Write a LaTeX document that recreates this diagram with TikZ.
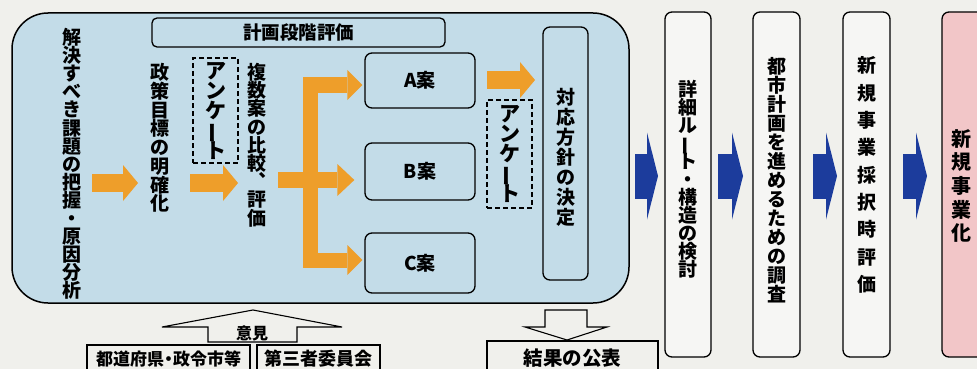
\documentclass[tikz,border=0pt]{standalone}
\usepackage{fontspec}
\usepackage{graphicx}
\setmainfont{Noto Sans CJK JP}
\usetikzlibrary{arrows.meta}
\definecolor{bg}{HTML}{F0F0EC}
\definecolor{lblue}{HTML}{C3DCE8}
\definecolor{orng}{HTML}{EE9E2A}
\definecolor{dblue}{HTML}{1C3C9C}
\definecolor{pinkbox}{HTML}{F2C6C8}
\definecolor{wbox}{HTML}{F6F6F4}
\makeatletter
\newcommand\vtxt[3]{\fontsize{#1pt}{#2pt}\selectfont\vbox{\baselineskip=#2pt\lineskiplimit=-100pt\lineskip=0pt\@tfor\vc:=#3\do{\hbox to #1pt{\hss\vc\hss}}}}
\makeatother
\newcommand\vbar{\rotatebox[origin=c]{90}{ー}}
\newcommand\ndot{\kern-4pt・\kern-4pt}
\tikzset{
 box/.style={draw, line width=1.3pt, rounded corners=7pt, inner sep=0pt},
 dbox/.style={draw, line width=1.1pt, dash pattern=on 5pt off 3pt, inner sep=0pt},
 txt/.style={inner sep=0pt, font=\bfseries},
 oarrow/.style={draw=orng, line width=18pt, -{Triangle[length=15pt,width=36pt,line width=0pt]}},
 oarm/.style={draw=orng, line width=15pt, -{Triangle[length=15pt,width=30pt,line width=0pt]}},
 barrow/.style={draw=dblue, line width=45pt, -{Triangle[length=11pt,width=87pt,line width=0pt]}},
 outline/.style={draw, line width=1.1pt, line join=miter},
}
\begin{document}
\begin{tikzpicture}[x=1pt,y=-1pt]
\useasboundingbox (0,0) rectangle (977,369);
\fill[bg] (0,0) rectangle (977,369);
% main planning box
\node[box, fill=lblue, line width=1.5pt, rounded corners=36pt, minimum width=617pt, minimum height=290pt] (main) at (320.5,158) {};
\node[box, fill=lblue, rounded corners=5pt, minimum width=293pt, minimum height=29pt, font=\bfseries\fontsize{18.5pt}{20pt}\selectfont] (plan) at (298.5,32.5) {計画段階評価};
% text columns
\node[txt] (t1) at (72,164) {\vtxt{19}{18.1}{解決すべき課題の把握・原因分析}};
\node[txt] (t2) at (160,138) {\vtxt{19}{18.7}{政策目標の明確化}};
\node[txt] (t3) at (257,145) {\vtxt{19}{18.2}{複数案の比較︑評価}};
\node[dbox, minimum width=45pt, minimum height=105pt] (enq1) at (215.5,110.5) {};
\node[txt] (enq1t) at (215.5,110.5) {\vtxt{21}{20}{アンケ{\vbar}ト}};
% alternatives
\node[box, fill=lblue, minimum width=110pt, minimum height=55pt, font=\bfseries\fontsize{19pt}{20pt}\selectfont] (A) at (420,80.5) {A案};
\node[box, fill=lblue, minimum width=110pt, minimum height=57pt, font=\bfseries\fontsize{19pt}{20pt}\selectfont] (B) at (420,171.5) {B案};
\node[box, fill=lblue, minimum width=110pt, minimum height=60pt, font=\bfseries\fontsize{19pt}{20pt}\selectfont] (C) at (420,263) {C案};
\node[dbox, minimum width=45pt, minimum height=108pt] (enq2) at (509.5,154) {};
\node[txt] (enq2t) at (509.5,154) {\vtxt{21}{20}{アンケ{\vbar}ト}};
\node[box, fill=lblue, minimum width=45pt, minimum height=253pt] (dec) at (565.5,153.5) {};
\node[txt] (dect) at (565.5,157) {\vtxt{19}{20}{対応方針の決定}};
% orange arrows
\coordinate (o1s) at (92,183); \coordinate (o1e) at (138,183);
\coordinate (o2s) at (190,183); \coordinate (o2e) at (238,183);
\coordinate (o3s) at (487,80); \coordinate (o3e) at (535,80);
\draw[oarrow] (o1s) -- (o1e);
\draw[oarrow] (o2s) -- (o2e);
\draw[oarrow] (o3s) -- (o3e);
\coordinate (brT) at (310.5,78); \coordinate (brB) at (310.5,268);
\draw[draw=orng, line width=15pt] (brT) -- (brB);
\coordinate (armA) at (303,85); \coordinate (armB) at (278,180); \coordinate (armC) at (303,260);
\draw[oarm] (armA) -- ([xshift=-2pt]A.west |- armA);
\draw[oarm, line width=16pt, -{Triangle[length=17pt,width=32pt,line width=0pt]}] (armB) -- ([xshift=-10pt]B.west |- armB);
\draw[oarm] (armC) -- ([xshift=-2pt]C.west |- armC);
% right-hand stages
\node[box, fill=wbox, minimum width=46pt, minimum height=345pt] (r1) at (688,184.5) {};
\node[txt] (r1t) at (688,179) {\vtxt{19}{18}{詳細ル{\vbar}ト・構造の検討}};
\node[box, fill=wbox, minimum width=47pt, minimum height=345pt] (r2) at (776.5,184.5) {};
\node[txt] (r2t) at (776.5,180) {\vtxt{19}{19}{都市計画を進めるための調査}};
\node[box, fill=wbox, minimum width=47pt, minimum height=345pt] (r3) at (866.5,184.5) {};
\node[txt] (r3t) at (866.5,175) {\vtxt{19}{27.3}{新規事業採択時評価}};
\node[box, fill=pinkbox, minimum width=48pt, minimum height=345pt] (r4) at (966,184.5) {};
\node[txt] (r4t) at (961,186) {\vtxt{20}{23.6}{新規事業化}};
% blue arrows
\coordinate (b1s) at (635,176); \coordinate (b1e) at (658,176);
\coordinate (b2s) at (718,176); \coordinate (b2e) at (743,176);
\coordinate (b3s) at (813,176); \coordinate (b3e) at (837,176);
\coordinate (b4s) at (903,176); \coordinate (b4e) at (927,176);
\draw[barrow] (b1s) -- (b1e);
\draw[barrow] (b2s) -- (b2e);
\draw[barrow] (b3s) -- (b3e);
\draw[barrow] (b4s) -- (b4e);
% bottom: opinions
\draw[outline] (162,327) -- (253,310) -- (342,327) -- (297,327) -- (297,342) -- (208,342) -- (208,327) -- cycle;
\node[txt, font=\bfseries\fontsize{16pt}{17pt}\selectfont] (op) at (252,333) {意見};
\node[draw, line width=1.1pt, inner sep=0pt, minimum width=163pt, minimum height=28pt, font=\bfseries\fontsize{17pt}{18pt}\selectfont] (pref) at (168.5,359) {都道府県\ndot 政令市等};
\node[draw, line width=1.1pt, inner sep=0pt, minimum width=123pt, minimum height=28pt, font=\bfseries\fontsize{18pt}{18pt}\selectfont] (third) at (318.5,359) {第三者委員会};
% bottom: publication
\draw[outline] (545,310) -- (587,310) -- (587,327) -- (607,327) -- (567,340) -- (525,327) -- (545,327) -- cycle;
\node[draw, line width=1.1pt, inner sep=0pt, minimum width=171pt, minimum height=34pt, font=\bfseries\fontsize{19.5pt}{20pt}\selectfont] (pub) at (572.5,358) {結果の公表};
\end{tikzpicture}
\end{document}
